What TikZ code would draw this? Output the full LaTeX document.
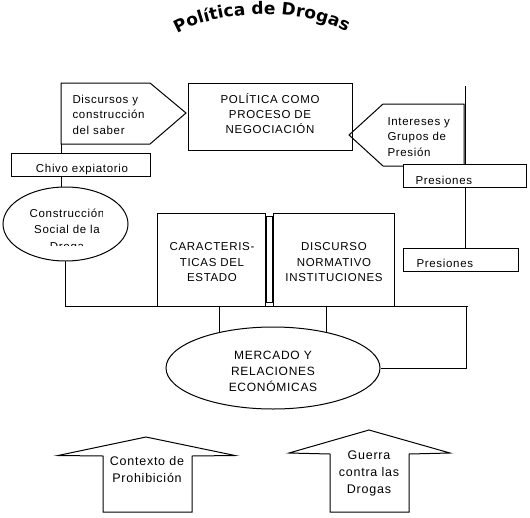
\documentclass[tikz,border=0pt]{standalone}
\usepackage{fontspec}
\setmainfont{Liberation Sans}[LetterSpace=6]
\newfontfamily\titlefont{DejaVu Sans}
\usetikzlibrary{shapes.geometric,decorations.text,backgrounds}
\begin{document}
\begin{tikzpicture}[x=1pt,y=-1pt,line width=1pt,
  txt/.style={inner sep=0pt,align=left,font=\fontsize{11.5}{15.5}\selectfont},
  ctxt/.style={inner sep=0pt,align=center,font=\fontsize{11.5}{15.3}\selectfont},
  btxt/.style={inner sep=0pt,align=center,font=\fontsize{12.5}{17}\selectfont},
  box/.style={draw,fill=white,inner sep=0pt},
  oval/.style={draw,fill=white,ellipse,inner sep=0pt}]
\useasboundingbox (0,0) rectangle (530,517);

% title
\begin{scope}[yscale=-1]
\path[decorate,decoration={text along path,text align=center,
  text={|\titlefont\bfseries\fontsize{17}{17}\selectfont|Política de Drogas}}]
  (170,-38) .. controls (215,-7) and (310,-7) .. (354,-36);
\end{scope}

% Discursos pentagon
\draw (61,83) -- (150,83) -- (186,113) -- (150,144) -- (61,144) -- cycle;
\coordinate (discb) at (61,144);
\node[txt,anchor=base west] (disc) at (72,134) {Discursos y\\construcción\\del saber};

% Politica box
\node[box,minimum width=164pt,minimum height=67pt] (pol) at (270,116.5) {};
\node[ctxt,anchor=base] (poltxt) at (270,133.6) {POLÍTICA COMO\\PROCESO DE\\NEGOCIACIÓN};

% Intereses pentagon
\draw (464,104) -- (383,104) -- (349,135) -- (383,166) -- (464,166) -- cycle;
\node[txt,anchor=base west] (int) at (387,156) {Intereses y\\Grupos de\\Presión};
\coordinate (ptop) at (465,86);

% Presiones boxes
\node[box,minimum width=123pt,minimum height=23pt] (pres1) at (464.5,175.5) {};
\begin{scope}
\clip (404,165) rectangle (525,183.5);
\node[txt,anchor=base west] (pres1t) at (415,184.5) {Presiones};
\end{scope}
\node[box,minimum width=115pt,minimum height=23pt] (pres2) at (460.5,259.5) {};
\node[txt,anchor=base west] (pres2t) at (416,267) {Presiones};

% Chivo box
\node[box,minimum width=139pt,minimum height=23pt] (chivo) at (80.5,164.5) {};
\begin{scope}
\clip (12,154) rectangle (149,175);
\node[txt,anchor=base] (chivot) at (82,172.3) {Chivo expiatorio};
\end{scope}

% Construccion ellipse
\node[oval,minimum width=125pt,minimum height=74pt] (cons) at (65.5,224) {};
\begin{scope}
\clip (20,198) rectangle (102,245.7);
\node[ctxt,anchor=base,font=\fontsize{11.5}{16.5}\selectfont] (const) at (67,250) {Construcción\\Social de la\\Droga};
\end{scope}

% Estado / Discurso boxes
\node[box,minimum width=108pt,minimum height=93pt] (car) at (211,259.5) {};
\node[ctxt,anchor=base] (cart) at (212,281.3) {CARACTERIS-\\TICAS DEL\\ESTADO};
\node[box,minimum width=6pt,minimum height=86pt] (strip) at (269,259) {};
\node[box,minimum width=121pt,minimum height=93pt] (dis) at (333.5,259.5) {};
\node[ctxt,anchor=base] (dist) at (334,281.3) {DISCURSO\\NORMATIVO\\INSTITUCIONES};

% Mercado ellipse
\node[oval,minimum width=214pt,minimum height=82pt] (merc) at (273,368) {};
\node[ctxt,anchor=base,font=\fontsize{12}{16.3}\selectfont] (merct) at (273,391.6) {MERCADO Y\\RELACIONES\\ECONÓMICAS};

% connectors (behind shapes)
\begin{scope}[on background layer]
\draw (discb) -- (cons.center -| discb);
\draw (ptop) -- (pres1.north -| ptop);
\draw (pres1.south -| ptop) -- (pres2.north -| ptop);
\draw (cons.center) |- (466,306) |- (merc.east);
\draw (466,306) -- (468,306);
\coordinate (m1) at (219,306);
\coordinate (m2) at (326,306);
\draw (m1) -- (m1 |- merc.center);
\draw (m2) -- (m2 |- merc.center);
\end{scope}

% bottom arrows
\draw (103,512) -- (103,456) -- (58,455.5) -- (146,437) -- (235,455.5) -- (192,456) -- (192,512) -- cycle;
\node[btxt,anchor=base] (ctx) at (147,482.7) {Contexto de\\Prohibición};
\draw (330,512) -- (330,454) -- (289,453) -- (369,430) -- (450,453) -- (409,454) -- (409,512) -- cycle;
\node[btxt,anchor=base] (gue) at (369,493.3) {Guerra\\contra las\\Drogas};
\end{tikzpicture}
\end{document}
